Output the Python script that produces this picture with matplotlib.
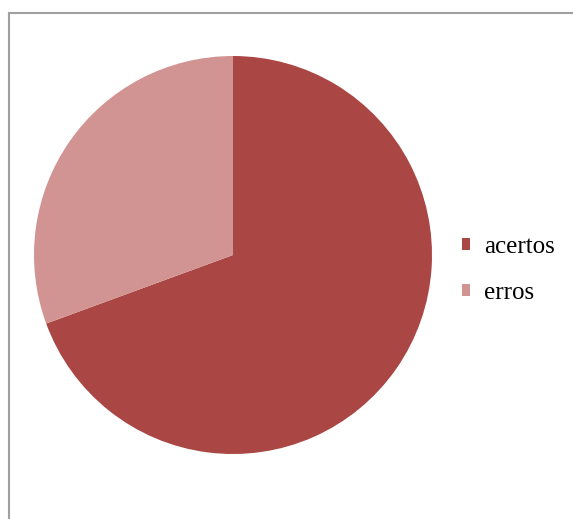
import matplotlib.pyplot as plt
from matplotlib.lines import Line2D

labels = ['acertos', 'erros']
values = [69.4, 30.6]
colors = ['#AA4643', '#D29492']

W, H = 573, 519
fig = plt.figure(figsize=(W / 100, H / 100), dpi=100)

# frame around chart area
fig.add_artist(Line2D([9 / W, 9 / W], [0, 1 - 13 / H], color='#a0a0a0', lw=1.5))
fig.add_artist(Line2D([9 / W, 1], [1 - 13 / H, 1 - 13 / H], color='#a0a0a0', lw=1.5))

cx, cy, r = 233, 255, 199
ax = fig.add_axes([(cx - r) / W, (H - cy - r) / H, 2 * r / W, 2 * r / H])
wedges, _ = ax.pie(values, colors=colors, startangle=90, counterclock=False,
                   radius=1, wedgeprops=dict(linewidth=0))
ax.set_xlim(-1, 1)
ax.set_ylim(-1, 1)
ax.set_aspect('equal')
ax.axis('off')

fig.legend(wedges, labels, loc='center left', bbox_to_anchor=(462 / W, 1 - 270 / H),
           frameon=False, borderpad=0, borderaxespad=0,
           handlelength=0.33, handleheight=0.33, handletextpad=0.55,
           labelspacing=0.95, prop={'family': 'Liberation Serif', 'size': 18})

fig.savefig('out.png', dpi=100)
